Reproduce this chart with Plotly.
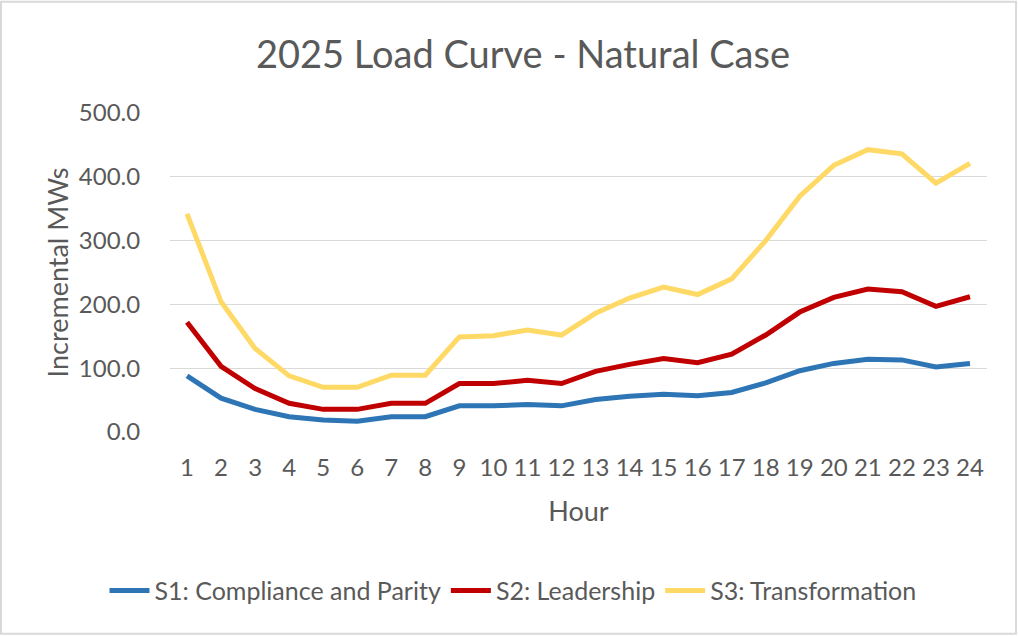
import plotly.graph_objects as go

hours = list(range(1, 25))
s1_compliance = [88, 53, 35.5, 24, 19, 17, 24, 24, 41, 41, 43, 41,
                 51, 56, 59, 57, 62, 77, 96, 107.5, 114, 113, 102, 107.5]
s2_leadership = [172, 103, 68, 45, 35.5, 35.5, 45, 45, 76, 76, 81, 76,
                 95, 106, 115, 108.5, 122, 152, 188, 211, 224, 220, 197, 212]
s3_transformation = [342, 204, 131, 88, 70, 70, 89, 89, 149, 151, 160, 152,
                     186, 210, 227, 215.5, 240, 300, 369.5, 418, 442.5, 436, 390, 421]

series_names = ["S1: Compliance and Parity", "S2: Leadership", "S3: Transformation"]
series_colors = ["#2E75B6", "#C00000", "#FFD966"]
y_ticks = [0, 100, 200, 300, 400, 500]

FONT = "Lato, Open Sans, sans-serif"
TXT = "#595959"

fig = go.Figure()
for name, vals, col in zip(series_names, [s1_compliance, s2_leadership, s3_transformation], series_colors):
    fig.add_trace(go.Scatter(x=hours, y=vals, mode="lines", name=name,
                             line=dict(color=col, width=5)))

W, H = 1018, 636
L, R, T, B = 170, 31, 112.5, 204
pw, ph = W - L - R, H - T - B

fig.update_layout(
    width=W, height=H,
    margin=dict(l=L, r=R, t=T, b=B, autoexpand=False),
    paper_bgcolor="white", plot_bgcolor="white",
    font=dict(family=FONT, color=TXT, size=24),
    title=dict(text="2025 Load Curve - Natural Case", x=523 / W, xanchor="center",
               y=1 - 55 / H, yanchor="middle", font=dict(size=38, color=TXT, family=FONT)),
    showlegend=True,
    legend=dict(orientation="h", x=(513 - L) / pw, xanchor="center",
                y=-(591 - (T + ph)) / ph, yanchor="middle",
                font=dict(size=25, color=TXT), itemwidth=40, traceorder="normal"),
    xaxis=dict(range=[0.5, 24.5], tickmode="array", tickvals=hours,
               ticktext=[str(h) for h in hours], showgrid=False, zeroline=False,
               showline=False, ticks="outside", ticklen=14, tickcolor="rgba(0,0,0,0)",
               tickfont=dict(size=24, color=TXT),
               title=dict(text="Hour", font=dict(size=27, color=TXT), standoff=22)),
    yaxis=dict(range=[0, 500], tickmode="array", tickvals=y_ticks,
               ticktext=[f"{v:.1f}" for v in y_ticks], showgrid=True,
               gridcolor="#D9D9D9", gridwidth=1, zeroline=False, showline=False,
               ticks="outside", ticklen=24, tickcolor="rgba(0,0,0,0)",
               tickfont=dict(size=24, color=TXT),
               title=dict(text="Incremental MWs", font=dict(size=27, color=TXT), standoff=2)),
    shapes=[dict(type="rect", xref="paper", yref="paper",
                 x0=(1 - L) / pw, x1=(W - 2 - L) / pw,
                 y0=-(H - 2 - (T + ph)) / ph, y1=1 + (T - 1) / ph,
                 line=dict(color="#D9D9D9", width=2), fillcolor="rgba(0,0,0,0)", layer="below")],
)

fig.write_html("out.html", config={"displayModeBar": False},
               post_script="document.body.style.margin='0';")
